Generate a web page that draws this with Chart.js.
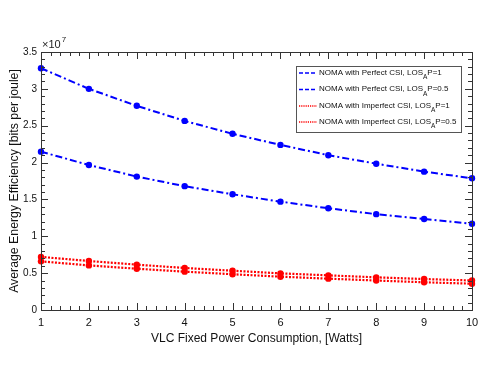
<!DOCTYPE html>
<html><head><meta charset="utf-8">
<script src="https://cdn.jsdelivr.net/npm/chart.js@4"></script>
<style>html,body{margin:0;padding:0;background:#fff}#c{display:block}</style>
</head><body>
<canvas id="c" width="491" height="382"></canvas>
<script>
// values in units of 1e7 bits per joule
const powerWatts = [1,2,3,4,5,6,7,8,9,10];
const perfectP1   = [3.28,3.00,2.77,2.565,2.39,2.24,2.10,1.985,1.877,1.787];
const perfectP05  = [2.148,1.967,1.81,1.68,1.57,1.47,1.38,1.30,1.235,1.17];
const imperfectP1 = [0.72,0.665,0.615,0.57,0.533,0.497,0.47,0.443,0.42,0.40];
const imperfectP05= [0.66,0.605,0.56,0.52,0.485,0.452,0.425,0.40,0.376,0.357];
const seriesNames = [
  ["NOMA with Perfect CSI, LOS","A","P=1"],
  ["NOMA with Perfect CSI, LOS","A","P=0.5"],
  ["NOMA with Imperfect CSI, LOS","A","P=1"],
  ["NOMA with Imperfect CSI, LOS","A","P=0.5"]
];
const yTicks = [0,0.5,1,1.5,2,2.5,3,3.5];
const xTitle = "VLC Fixed Power Consumption, [Watts]";
const yTitle = "Average Energy Efficiency [bits per joule]";

const BLUE = "#0000ff", RED = "#ff0000";
const blueDash = [7,3,2,3], redDash = [2,1.5];
function mk(vals, name, color, dash, width){
  return {label: name.join(""), data: powerWatts.map((x,i)=>({x, y: vals[i]})),
    borderColor: color, backgroundColor: color, borderDash: dash, borderWidth: width,
    pointRadius: 3.2, pointStyle: 'circle', pointBorderWidth: 0, tension: 0, fill: false, clip: false};
}
const FONT = "Liberation Sans, Arial, sans-serif";

const deco = {
  id: 'deco',
  afterDraw(chart){
    const ctx = chart.ctx, a = chart.chartArea, xs = chart.scales.x, ys = chart.scales.y;
    ctx.save();
    ctx.strokeStyle = '#333'; ctx.lineWidth = 1; ctx.setLineDash([]);
    ctx.strokeRect(a.left+0.5, a.top+0.5, a.right-a.left, a.bottom-a.top);
    ctx.beginPath();
    for (let v = 1; v <= 10.0001; v += 0.2){
      const px = Math.round(xs.getPixelForValue(v))+0.5;
      const major = Math.abs(v-Math.round(v))<1e-6;
      const L = major?7:4;
      ctx.moveTo(px,a.bottom); ctx.lineTo(px,a.bottom-L);
      ctx.moveTo(px,a.top); ctx.lineTo(px,a.top+L);
    }
    for (let v = 0; v <= 3.5001; v += 0.1){
      const py = Math.round(ys.getPixelForValue(v))+0.5;
      const major = Math.abs(v*2-Math.round(v*2))<1e-6;
      const L = major?7:4;
      ctx.moveTo(a.left,py); ctx.lineTo(a.left+L,py);
      ctx.moveTo(a.right,py); ctx.lineTo(a.right-L,py);
    }
    ctx.stroke();
    // exponent
    ctx.fillStyle = '#222';
    ctx.font = "11px " + FONT; ctx.textBaseline = 'alphabetic'; ctx.textAlign='left';
    ctx.fillText("\u00d710", a.left+1, a.top-4);
    const w = ctx.measureText("\u00d710").width;
    ctx.font = "8px " + FONT;
    ctx.fillText("7", a.left+1+w+1, a.top-10);
    // legend
    const lx = 296, ly = 66, lw = 165, lh = 66;
    ctx.fillStyle = '#fff'; ctx.fillRect(lx,ly,lw,lh);
    ctx.strokeStyle = '#555'; ctx.lineWidth = 1; ctx.strokeRect(lx+0.5,ly+0.5,lw,lh);
    const rows = [72.5, 89, 105.5, 121.5];
    chart.data.datasets.forEach((ds,i)=>{
      const y = rows[i];
      ctx.strokeStyle = ds.borderColor; ctx.lineWidth = 1.6;
      ctx.setLineDash(i<2?[4,2]:[1.2,1]);
      ctx.beginPath(); ctx.moveTo(299,y+0.5); ctx.lineTo(317,y+0.5); ctx.stroke();
      ctx.setLineDash([]);
      ctx.fillStyle = '#111'; ctx.textBaseline='middle';
      const parts = seriesNames[i];
      let x = 319;
      ctx.font = "8px " + FONT;
      ctx.fillText(parts[0], x, y); x += ctx.measureText(parts[0]).width;
      ctx.font = "6.5px " + FONT;
      ctx.fillText(parts[1], x, y+5); x += ctx.measureText(parts[1]).width;
      ctx.font = "8px " + FONT;
      ctx.fillText(parts[2], x, y);
    });
    ctx.restore();
  }
};

new Chart(document.getElementById('c'), {
  type: 'line',
  data: { datasets: [
    mk(perfectP1, seriesNames[0], BLUE, blueDash, 2),
    mk(perfectP05, seriesNames[1], BLUE, blueDash, 2),
    mk(imperfectP1, seriesNames[2], RED, redDash, 2.2),
    mk(imperfectP05, seriesNames[3], RED, redDash, 2.2)
  ]},
  options: {
    responsive: false, animation: false, devicePixelRatio: 1,
    layout: { padding: { top: 52, right: 19, left: 0, bottom: 36 } },
    plugins: { legend: { display: false }, tooltip: { enabled: false } },
    scales: {
      x: { type: 'linear', min: 1, max: 10,
        afterFit(s){ s.height = 36; s.paddingLeft = 0; s.paddingRight = 0; },
        ticks: { stepSize: 1, color: '#111', font: { family: FONT, size: 11 }, padding: 6, maxRotation: 0, autoSkip: false },
        grid: { display: false, drawTicks: false, tickLength: 0 }, border: { display: false },
        title: { display: true, text: xTitle, color: '#111', font: { family: FONT, size: 12 }, padding: { top: 1, bottom: 0 } }
      },
      y: { type: 'linear', min: 0, max: 3.5,
        afterFit(s){ s.width = 41; },
        afterBuildTicks(s){ s.ticks = yTicks.map(v=>({value:v})); },
        ticks: { color: '#111', font: { family: FONT, size: 10 }, padding: 4,
          callback: v => String(v) },
        grid: { display: false, drawTicks: false, tickLength: 0 }, border: { display: false },
        title: { display: true, text: yTitle, color: '#111', font: { family: FONT, size: 12.3 }, padding: { top: 7.5, bottom: 0 } }
      }
    }
  },
  plugins: [deco]
});
</script>
</body></html>
